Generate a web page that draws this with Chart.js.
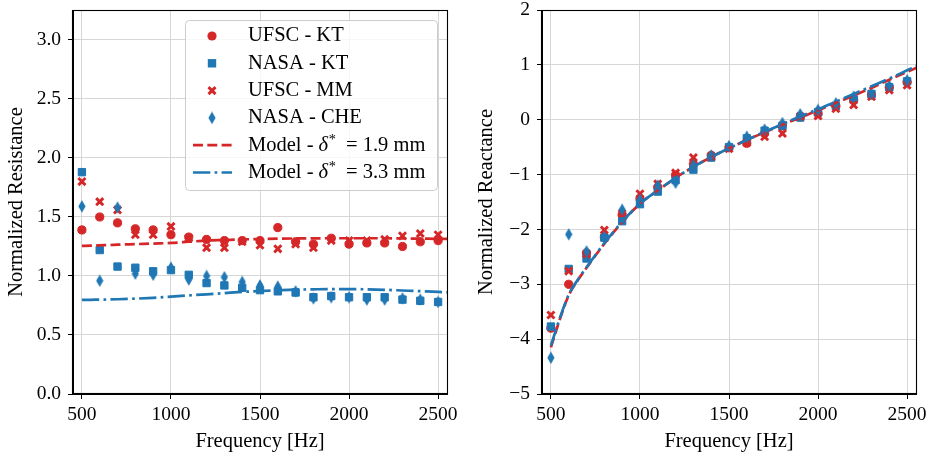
<!DOCTYPE html>
<html><head><meta charset="utf-8">
<script src="https://cdn.jsdelivr.net/npm/chart.js@4.4.0/dist/chart.umd.min.js"></script>
<style>
html,body{margin:0;padding:0;background:#fff;}
#wrap{position:relative;width:930px;height:456px;overflow:hidden;}
.c{position:absolute;top:0;width:465px;height:456px;}
</style></head><body>
<div id="wrap">
<div class="c" style="left:0"><canvas id="res" width="465" height="456"></canvas></div>
<div class="c" style="left:465px"><canvas id="rea" width="465" height="456"></canvas></div>
</div>
<script>
// ---------- data ----------
const freqs = [500,600,700,800,900,1000,1100,1200,1300,1400,1500,1600,1700,1800,1900,2000,2100,2200,2300,2400,2500];
const modelFreqs = [500,550,600,650,700,800,900,1000,1100,1200,1300,1400,1500,1600,1700,1800,1900,2000,2100,2200,2300,2400,2500,2600];

const resUfscKt  = [1.39,1.50,1.45,1.40,1.39,1.35,1.33,1.31,1.30,1.30,1.30,1.41,1.29,1.27,1.32,1.27,1.28,1.28,1.25,1.29,1.30];
const resNasaKt  = [1.88,1.22,1.08,1.07,1.04,1.05,1.01,0.94,0.92,0.90,0.88,0.87,0.86,0.82,0.83,0.82,0.82,0.82,0.80,0.79,0.78];
const resUfscMm  = [1.80,1.63,1.56,1.35,1.35,1.42,1.32,1.24,1.24,1.29,1.26,1.23,1.27,1.24,1.30,1.30,1.30,1.31,1.34,1.36,1.35];
const resNasaChe = [1.59,0.96,1.58,1.02,1.01,1.07,0.97,1.00,0.99,0.95,0.92,0.91,0.87,0.81,0.82,0.82,0.80,0.80,0.81,0.80,0.78];
const resModel19 = [1.255,1.257,1.26,1.262,1.265,1.27,1.275,1.28,1.29,1.30,1.305,1.31,1.313,1.316,1.318,1.319,1.32,1.32,1.32,1.32,1.318,1.317,1.315,1.315];
const resModel33 = [0.797,0.798,0.80,0.801,0.803,0.808,0.815,0.825,0.835,0.845,0.855,0.865,0.873,0.879,0.884,0.887,0.889,0.889,0.887,0.883,0.877,0.871,0.865,0.858];

const reaUfscKt  = [-3.80,-3.00,-2.43,-2.14,-1.73,-1.44,-1.23,-1.01,-0.81,-0.65,-0.51,-0.43,-0.25,-0.10,0.05,0.11,0.25,0.36,0.45,0.59,0.69];
const reaNasaKt  = [-3.77,-2.72,-2.53,-2.15,-1.85,-1.54,-1.31,-1.10,-0.91,-0.69,-0.50,-0.34,-0.20,-0.12,0.04,0.14,0.25,0.37,0.47,0.59,0.70];
const reaUfscMm  = [-3.56,-2.76,-2.45,-2.01,-1.71,-1.35,-1.17,-0.97,-0.69,-0.67,-0.53,-0.42,-0.31,-0.25,0.06,0.07,0.20,0.27,0.42,0.54,0.63];
const reaNasaChe = [-4.34,-2.09,-2.40,-2.14,-1.64,-1.46,-1.20,-1.15,-0.83,-0.65,-0.48,-0.31,-0.18,-0.06,0.10,0.18,0.30,0.42,0.47,0.62,0.72];
const reaModel19 = [-4.15,-3.64,-3.20,-2.93,-2.70,-2.26,-1.87,-1.53,-1.29,-1.06,-0.86,-0.68,-0.52,-0.37,-0.23,-0.09,0.04,0.17,0.31,0.44,0.58,0.73,0.87,1.02];
const reaModel33 = [-4.12,-3.62,-3.19,-2.92,-2.69,-2.25,-1.86,-1.53,-1.29,-1.06,-0.86,-0.68,-0.52,-0.37,-0.22,-0.08,0.06,0.19,0.33,0.47,0.61,0.75,0.90,1.05];

const xTicks   = [500,1000,1500,2000,2500];
const resTicks = [0,0.5,1,1.5,2,2.5,3];
const reaTicks = [-5,-4,-3,-2,-1,0,1,2];

const seriesNames = ['UFSC - KT','NASA - KT','UFSC - MM','NASA - CHE'];
const modelDelta  = ['1.9','3.3'];

// ---------- styling ----------
const RED = '#d62728', BLUE = '#1f77b4';
const FAM = "'Liberation Serif', 'Times New Roman', serif";
const FS = 19.5, FT = 20.5;
const F = {family: FAM, size: FS};
const FTI = {family: FAM, size: FT};
const GRID = '#d6d6d6';
const DASH = [10, 4.3];
const DASHDOT = [17.3, 4.3, 2.7, 4.3];

function thinDiamond(color){
  const c = document.createElement('canvas');
  c.width = 8; c.height = 13;
  const g = c.getContext('2d');
  g.fillStyle = color;
  g.beginPath();
  g.moveTo(4, 0.3); g.lineTo(7.6, 6.5); g.lineTo(4, 12.7); g.lineTo(0.4, 6.5);
  g.closePath(); g.fill();
  return c;
}
const diamondImg = thinDiamond(BLUE);

function pts(xs, ys){ return ys.map((v,i)=>({x: xs[i], y: v})); }

function makeDatasets(a, b, c, d, m1, m2){
  return [
    {type:'line', label:'m19', data: pts(modelFreqs, m1), borderColor: RED, borderWidth: 2.7, borderDash: DASH,
      pointRadius: 0, cubicInterpolationMode: 'monotone', fill:false, order: 1},
    {type:'line', label:'m33', data: pts(modelFreqs, m2), borderColor: BLUE, borderWidth: 2.7, borderDash: DASHDOT,
      pointRadius: 0, cubicInterpolationMode: 'monotone', fill:false, order: 0},
    {type:'scatter', label: seriesNames[0], data: pts(freqs, a), pointStyle:'circle', pointRadius: 4.1,
      backgroundColor: RED, borderColor: RED, borderWidth: 1, order: 6},
    {type:'scatter', label: seriesNames[1], data: pts(freqs, b), pointStyle:'rect', pointRadius: 5.2,
      backgroundColor: BLUE, borderColor: BLUE, borderWidth: 1, order: 5},
    {type:'scatter', label: seriesNames[2], data: pts(freqs, c), pointStyle:'crossRot', pointRadius: 5,
      backgroundColor: RED, borderColor: RED, borderWidth: 2.9, order: 4},
    {type:'scatter', label: seriesNames[3], data: pts(freqs, d), pointStyle: diamondImg, pointRadius: 5,
      backgroundColor: BLUE, borderColor: BLUE, borderWidth: 0, order: 3}
  ];
}

const spines = {
  id: 'spines',
  afterDraw(chart){
    const {ctx, chartArea: a} = chart;
    ctx.save();
    ctx.strokeStyle = '#000'; ctx.lineWidth = 1.1;
    ctx.strokeRect(Math.round(a.left)-0.5, Math.round(a.top)+0.5, Math.round(a.right-a.left)+1, Math.round(a.bottom-a.top)-1);
    ctx.restore();
  }
};

function drawMarker(ctx, kind, x, y){
  ctx.save();
  if (kind === 0){ ctx.fillStyle = RED; ctx.beginPath(); ctx.arc(x, y, 4.6, 0, Math.PI*2); ctx.fill(); }
  else if (kind === 1){ ctx.fillStyle = BLUE; ctx.fillRect(x-4.2, y-4.2, 8.4, 8.4); }
  else if (kind === 2){ ctx.strokeStyle = RED; ctx.lineWidth = 2.9; ctx.beginPath();
    ctx.moveTo(x-3.5,y-3.5); ctx.lineTo(x+3.5,y+3.5); ctx.moveTo(x+3.5,y-3.5); ctx.lineTo(x-3.5,y+3.5); ctx.stroke(); }
  else { ctx.drawImage(diamondImg, x-4, y-6.5); }
  ctx.restore();
}

const legendPlugin = {
  id: 'customLegend',
  afterDraw(chart){
    const ctx = chart.ctx;
    const bx = 185.5, by = 20.5, bw = 252, bh = 170, r = 4;
    ctx.save();
    ctx.beginPath();
    ctx.moveTo(bx+r, by); ctx.lineTo(bx+bw-r, by); ctx.quadraticCurveTo(bx+bw, by, bx+bw, by+r);
    ctx.lineTo(bx+bw, by+bh-r); ctx.quadraticCurveTo(bx+bw, by+bh, bx+bw-r, by+bh);
    ctx.lineTo(bx+r, by+bh); ctx.quadraticCurveTo(bx, by+bh, bx, by+bh-r);
    ctx.lineTo(bx, by+r); ctx.quadraticCurveTo(bx, by, bx+r, by);
    ctx.closePath();
    ctx.fillStyle = 'rgba(255,255,255,0.8)'; ctx.fill();
    ctx.strokeStyle = '#cccccc'; ctx.lineWidth = 1; ctx.stroke();

    const rows = [36, 63.3, 90.6, 117.9, 145.2, 172.5];
    const tx = 248, mx = 212;
    ctx.textBaseline = 'middle'; ctx.textAlign = 'left';
    for (let i = 0; i < 4; i++){
      drawMarker(ctx, i, mx, rows[i]);
      ctx.fillStyle = '#000';
      ctx.font = FT + 'px ' + FAM;
      ctx.fillText(seriesNames[i], tx, rows[i]);
    }
    for (let j = 0; j < 2; j++){
      const y = rows[4+j];
      ctx.save();
      ctx.strokeStyle = j === 0 ? RED : BLUE; ctx.lineWidth = 2.7;
      ctx.setLineDash(j === 0 ? DASH : DASHDOT);
      ctx.beginPath(); ctx.moveTo(193, y); ctx.lineTo(232, y); ctx.stroke();
      ctx.restore();
      let x = tx;
      ctx.fillStyle = '#000';
      ctx.font = FT + 'px ' + FAM;
      ctx.fillText('Model - ', x, y); x += ctx.measureText('Model - ').width;
      ctx.font = 'italic ' + FT + 'px ' + FAM;
      ctx.fillText('δ', x, y); x += ctx.measureText('δ').width + 0.5;
      ctx.font = (FT*0.7) + 'px ' + FAM;
      ctx.fillText('*', x, y - 5); x += ctx.measureText('*').width;
      ctx.font = FT + 'px ' + FAM;
      ctx.fillText('  = ' + modelDelta[j] + ' mm', x, y);
    }
    ctx.restore();
  }
};

function makeOptions(yMin, yMax, yTicks, yFmt, yTitle, yWidth, yTitlePad, padRight){
  return {
    responsive: false, animation: false,
    layout: {padding: {top: 10, right: padRight, left: 0, bottom: 0}},
    plugins: {legend: {display: false}, tooltip: {enabled: false}},
    scales: {
      x: {
        type: 'linear', min: 450, max: 2550,
        afterBuildTicks: s => { s.ticks = xTicks.map(v => ({value: v})); },
        afterFit: s => { s.height = 62; s.paddingLeft = 0; s.paddingRight = 0; },
        ticks: {font: F, color: '#000', padding: 4, maxRotation: 0, autoSkip: false, callback: v => String(v)},
        grid: {color: GRID, tickColor: '#000', tickLength: 5, lineWidth: 1},
        border: {color: '#000', width: 1},
        title: {display: true, text: 'Frequency [Hz]', font: FTI, color: '#000', padding: {top: 0, bottom: 2}}
      },
      y: {
        type: 'linear', min: yMin, max: yMax,
        afterBuildTicks: s => { s.ticks = yTicks.map(v => ({value: v})); },
        afterFit: s => { s.width = yWidth; s.paddingTop = 0; s.paddingBottom = 0; },
        ticks: {font: F, color: '#000', padding: 7, autoSkip: false, callback: yFmt},
        grid: {color: GRID, tickColor: '#000', tickLength: 5, lineWidth: 1},
        border: {color: '#000', width: 1},
        title: {display: true, text: yTitle, font: FTI, color: '#000', padding: {top: yTitlePad, bottom: 0}}
      }
    }
  };
}

new Chart(document.getElementById('res'), {
  type: 'scatter',
  data: {datasets: makeDatasets(resUfscKt, resNasaKt, resUfscMm, resNasaChe, resModel19, resModel33)},
  options: makeOptions(0, 3.254, resTicks, v => Number(v).toFixed(1), 'Normalized Resistance', 73, 4.5, 18),
  plugins: [spines, legendPlugin]
});

new Chart(document.getElementById('rea'), {
  type: 'scatter',
  data: {datasets: makeDatasets(reaUfscKt, reaNasaKt, reaUfscMm, reaNasaChe, reaModel19, reaModel33)},
  options: makeOptions(-5, 2, reaTicks, v => (v < 0 ? '\u2212' + Math.abs(v) : String(v)), 'Normalized Reactance', 77, 9.5, 14),
  plugins: [spines]
});
</script>
</body></html>
